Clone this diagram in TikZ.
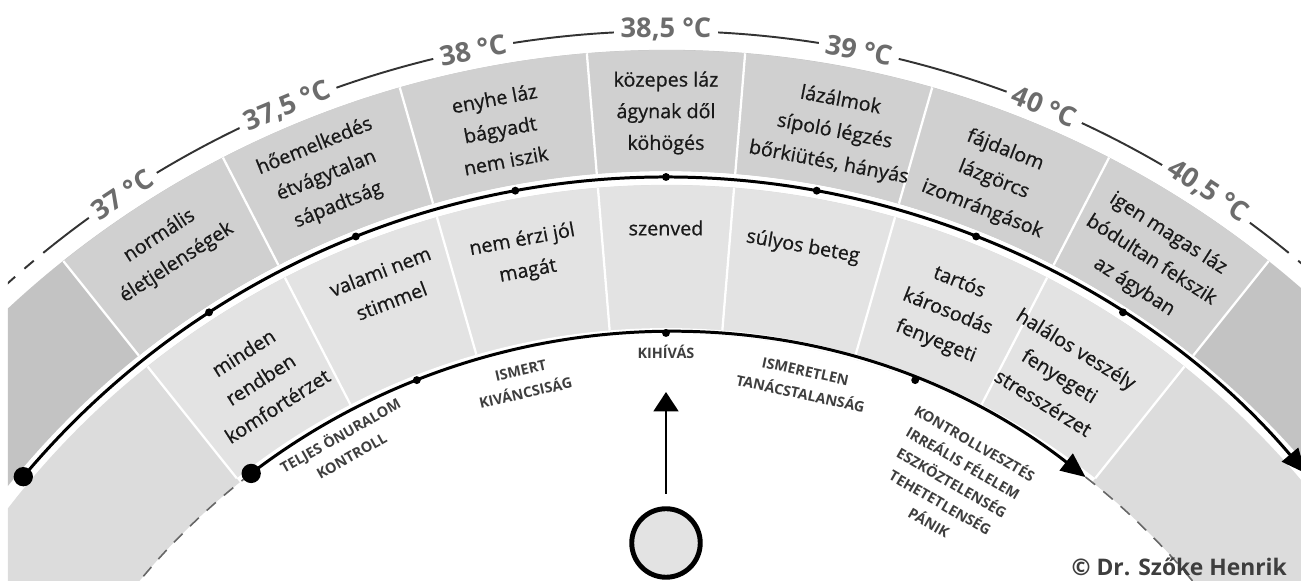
\documentclass[tikz,border=0pt]{standalone}
\usepackage{fontspec}
\setmainfont{Open Sans}
\newfontfamily\cellfont{Open Sans}[FakeBold=0.7]
\usetikzlibrary{arrows.meta, positioning}
\definecolor{outerband}{RGB}{208,208,208}
\definecolor{outerend}{RGB}{195,195,195}
\definecolor{innerband}{RGB}{227,227,227}
\definecolor{innerend}{RGB}{220,220,220}
\definecolor{templabel}{RGB}{108,108,108}
\definecolor{inkdark}{RGB}{25,25,25}
\definecolor{phaseink}{RGB}{62,62,62}

\tikzset{
  celltext/.style={font=\cellfont\fontsize{11.2}{18}\selectfont, text=inkdark, align=center, inner sep=0pt},
  phase/.style={font=\fontsize{8.2}{13}\selectfont\bfseries, text=phaseink, align=center, inner sep=0pt},
  templbl/.style={font=\fontsize{15.5}{16}\selectfont\bfseries, text=templabel, fill=white, inner xsep=4pt, inner ysep=1pt},
  trackdot/.style={circle, fill=black, inner sep=0pt, minimum size=#1},
  cellsep/.style={white, line width=1.3pt},
  templine/.style={line width=1.1pt, black!80},
  track/.style={line width=1.7pt, black},
  dashline/.style={line width=0.9pt, black!60, dash pattern=on 7pt off 6pt},
}

\begin{document}
\begin{tikzpicture}[x=0.02cm, y=0.02cm]
  \useasboundingbox (-666,435) rectangle (635,1016);

  \begin{scope}
    \clip (-658,435) rectangle (635,1016);

    % outer band
    \fill[outerend] (30:845) arc[start angle=30, end angle=150, radius=845]
      -- (150:966) arc[start angle=150, end angle=30, radius=966] -- cycle;
    \fill[outerband] (51.4:845) arc[start angle=51.4, end angle=128.6, radius=845]
      -- (128.6:966) arc[start angle=128.6, end angle=51.4, radius=966] -- cycle;

    % inner band
    \fill[innerend] (30:683) arc[start angle=30, end angle=150, radius=683]
      -- (150:831) arc[start angle=150, end angle=30, radius=831] -- cycle;
    \fill[innerband] (51.4:688) arc[start angle=51.4, end angle=128.6, radius=688]
      -- (128.6:831) arc[start angle=128.6, end angle=51.4, radius=831] -- cycle;
    \fill[white] (51.4:683) arc[start angle=51.4, end angle=128.6, radius=683]
      -- (128.6:688) arc[start angle=128.6, end angle=51.4, radius=688] -- cycle;

    \foreach \a in {4.7, 16, 27.3, 38.6} {
      \draw[cellsep] (90+\a:845) -- (90+\a:966);
      \draw[cellsep] (90-\a:845) -- (90-\a:966);
      \draw[cellsep] (90+\a:688) -- (90+\a:831);
      \draw[cellsep] (90-\a:688) -- (90-\a:831);
    }

    % temperature scale
    \draw[templine] (51.5:985) arc[start angle=51.5, end angle=128.5, radius=985];
    \draw[templine, dash pattern=on 7pt off 7pt] (128.5:985) arc[start angle=128.5, end angle=150, radius=985];
    \draw[templine, dash pattern=on 7pt off 7pt] (51.5:985) arc[start angle=51.5, end angle=30, radius=985];

    % tracks
    \draw[dashline] (127.4:683) arc[start angle=127.4, end angle=150, radius=683];
    \draw[dashline] (52.1:683) arc[start angle=52.1, end angle=30, radius=683];
    \draw[track, -{Triangle[length=14pt, width=12pt]}] (140:839) arc[start angle=140, end angle=40.3, radius=839];
    \draw[track, -{Triangle[length=14pt, width=12pt]}] (127.4:683) arc[start angle=127.4, end angle=52.1, radius=683];
  \end{scope}

  \node[templbl, rotate=33.5] (t37) at (90+33.5:985) {37 °C};
  \node[templbl, rotate=22.6] (t375) at (90+22.6:985) {37,5 °C};
  \node[templbl, rotate=11.3] (t38) at (90+11.3:985) {38 °C};
  \node[templbl] (t385) at (90:987) {38,5 °C};
  \node[templbl, rotate=-11.3] (t39) at (90-11.3:985) {39 °C};
  \node[templbl, rotate=-22.6] (t40) at (90-22.6:985) {40 °C};
  \node[templbl, rotate=-33.3] (t405) at (90-33.3:987) {40,5 °C};

  \node[trackdot=11pt] (midstart) at (140:839) {};
  \node[trackdot=11pt] (innerstart) at (127.4:683) {};
  \node[trackdot=4.5pt] (m1) at (90+33:839) {};
  \node[trackdot=4.5pt] (m2) at (90+21.7:839) {};
  \node[trackdot=4.5pt] (m3) at (90+10.35:839) {};
  \node[trackdot=4.5pt] (m4) at (90:839) {};
  \node[trackdot=4.5pt] (m5) at (90-10.35:839) {};
  \node[trackdot=4.5pt] (m6) at (90-21.7:839) {};
  \node[trackdot=4.5pt] (m7) at (90-33:839) {};
  \node[trackdot=4.5pt] (i1) at (90+21.4:683) {};
  \node[trackdot=4.5pt] (i2) at (90:683) {};
  \node[trackdot=4.5pt] (i3) at (90-21.4:683) {};

  \node[celltext, rotate=33] (normal) at (90+33:914) {normális\\életjelenségek};
  \node[celltext, rotate=22] (hoemelk) at (90+22:906) {hőemelkedés\\étvágytalan\\sápadtság};
  \node[celltext, rotate=10.6] (enyhe) at (90+10.6:902) {enyhe láz\\bágyadt\\nem iszik};
  \node[celltext] (kozepes) at (90:903) {közepes láz\\ágynak dől\\köhögés};
  \node[celltext, rotate=-10.8] (lazalom) at (90-10.8:900) {lázálmok\\sípoló légzés\\bőrkiütés, hányás};
  \node[celltext, rotate=-21.4] (fajdalom) at (90-21.4:898) {fájdalom\\lázgörcs\\izomrángások};
  \node[celltext, rotate=-32.6] (igenmagas) at (90-32.7:898) {igen magas láz\\bódultan fekszik\\az ágyban};

  \node[celltext, rotate=32.5] (minden) at (90+32.5:755) {minden\\rendben\\komfortérzet};
  \node[celltext, rotate=21] (valami) at (90+21:782) {valami nem\\stimmel};
  \node[celltext, rotate=10.5] (nemerzi) at (90+10.5:773) {nem érzi jól\\magát};
  \node[celltext] (szenved) at (90:788) {szenved};
  \node[celltext, rotate=-10.1] (sulyos) at (90-10.1:781) {súlyos beteg};
  \node[celltext, rotate=-21.8] (tartos) at (90-21.8:758) {tartós\\károsodás\\fenyegeti};
  \node[celltext, rotate=-31.6] (halalos) at (90-31.6:752) {halálos veszély\\fenyegeti\\stresszérzet};

  \node[phase, rotate=29.5] (teljes) at (90+29.3:655) {TELJES ÖNURALOM\\KONTROLL};
  \node[phase, rotate=12.7] (ismert) at (90+12.7:650) {ISMERT\\KIVÁNCSISÁG};
  \node[phase] (kihivas) at (90:664) {KIHÍVÁS};
  \node[phase, rotate=-12.2] (ismeretlen) at (90-12.2:648) {ISMERETLEN\\TANÁCSTALANSÁG};
  \node[phase, rotate=-30] (kontrollv) at (90-28.2:606) {KONTROLLVESZTÉS\\IRREÁLIS FÉLELEM\\ESZKÖZTELENSÉG\\TEHETETLENSÉG\\PÁNIK};

  \node[circle, draw=black, line width=2.8pt, fill=innerband, minimum size=39pt] (self) at (0,473) {};
  \coordinate (tip) at (0,624);
  \draw[track, -{Triangle[length=11pt, width=14pt]}, shorten <=7pt] (self) -- (tip);

  \node[font=\fontsize{13}{13}\selectfont\bfseries, text=phaseink, anchor=base east] (credit) at (627,440) {© Dr. Szőke Henrik};
\end{tikzpicture}
\end{document}
